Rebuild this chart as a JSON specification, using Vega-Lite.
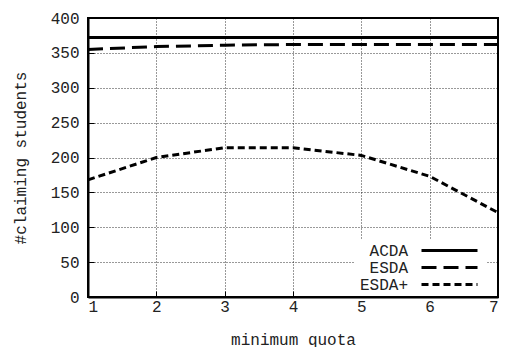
{
  "$schema": "https://vega.github.io/schema/vega-lite/v6.json",
  "autosize": "none",
  "width": 410,
  "height": 279,
  "padding": {"left": 88, "top": 18, "right": 9, "bottom": 50},
  "background": "white",
  "config": {
    "font": "Liberation Mono",
    "view": {"stroke": "black", "strokeWidth": 2},
    "axis": {
      "labelFont": "Liberation Mono", "titleFont": "Liberation Mono",
      "labelFontSize": 16, "titleFontSize": 16, "labelColor": "#222", "titleColor": "#222",
      "titleFontWeight": "normal",
      "domainColor": "black", "domainWidth": 2,
      "tickColor": "black", "tickSize": -6, "tickWidth": 1,
      "gridColor": "black", "gridDash": [1, 2], "gridWidth": 1, "gridOpacity": 0.8
    },
    "legend": {"labelFont": "Liberation Mono"}
  },
  "data": {"values": [
    {"q": 1, "s": "ACDA", "v": 372}, {"q": 2, "s": "ACDA", "v": 372}, {"q": 3, "s": "ACDA", "v": 372}, {"q": 4, "s": "ACDA", "v": 372}, {"q": 5, "s": "ACDA", "v": 372}, {"q": 6, "s": "ACDA", "v": 372}, {"q": 7, "s": "ACDA", "v": 372},
    {"q": 1, "s": "ESDA", "v": 355}, {"q": 2, "s": "ESDA", "v": 359}, {"q": 3, "s": "ESDA", "v": 361}, {"q": 4, "s": "ESDA", "v": 362}, {"q": 5, "s": "ESDA", "v": 362}, {"q": 6, "s": "ESDA", "v": 362}, {"q": 7, "s": "ESDA", "v": 362},
    {"q": 1, "s": "ESDA+", "v": 168}, {"q": 2, "s": "ESDA+", "v": 200}, {"q": 3, "s": "ESDA+", "v": 214}, {"q": 4, "s": "ESDA+", "v": 214}, {"q": 5, "s": "ESDA+", "v": 203}, {"q": 6, "s": "ESDA+", "v": 173}, {"q": 7, "s": "ESDA+", "v": 121}
  ]},
  "mark": {"type": "line", "color": "black", "strokeWidth": 3},
  "encoding": {
    "x": {"field": "q", "type": "quantitative", "scale": {"domain": [1, 7], "nice": false, "zero": false},
      "axis": {"values": [1, 2, 3, 4, 5, 6, 7], "title": "minimum quota", "labelPadding": 7, "titlePadding": 17, "format": "d"}},
    "y": {"field": "v", "type": "quantitative", "scale": {"domain": [0, 400], "nice": false},
      "axis": {"values": [0, 50, 100, 150, 200, 250, 300, 350, 400], "title": "#claiming students", "labelPadding": 15, "titlePadding": 22}},
    "strokeDash": {"field": "s", "type": "nominal",
      "scale": {"domain": ["ACDA", "ESDA", "ESDA+"], "range": [[1, 0], [15, 7], [7, 4]]},
      "legend": {"title": null, "orient": "none", "legendX": 267, "legendY": 221,
        "symbolType": "M-4,0H4", "symbolSize": 196, "symbolStrokeWidth": 3, "symbolStrokeColor": "black",
        "symbolOffset": 83, "labelOffset": -50, "labelAlign": "right",
        "labelFontSize": 16, "labelColor": "#222",
        "rowPadding": -1.5, "fillColor": "white", "padding": 3}}
  }
}
